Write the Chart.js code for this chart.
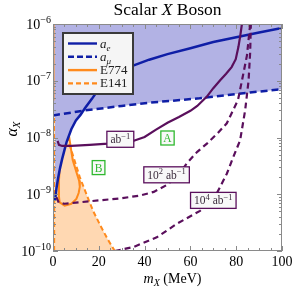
<!DOCTYPE html>
<html>
<head>
<meta charset="utf-8">
<script src="https://cdn.jsdelivr.net/npm/chart.js@4.4.0/dist/chart.umd.min.js"></script>
<style>
  html, body { margin: 0; padding: 0; background: #fff; }
  #wrap { width: 292px; height: 290px; }
</style>
</head>
<body>
<div id="wrap"><canvas id="bosonChart" width="292" height="290"></canvas></div>
<script>
// limits: mass in MeV, coupling alpha_X
const aeMass  = [0.9, 1.5, 2.2, 3, 4, 5, 6, 8, 10, 12, 14, 17, 20, 25, 30, 35, 42, 50, 60, 70, 80, 90, 100];
const aeAlpha = [7.8e-10, 1.26e-9, 1.9e-9, 2.8e-9, 4.2e-9, 6.0e-9, 8.5e-9, 1.4e-8, 2.0e-8, 2.5e-8, 3.3e-8, 4.8e-8, 7.2e-8, 1.08e-7, 1.45e-7, 1.85e-7, 2.35e-7, 2.95e-7, 3.75e-7, 4.8e-7, 5.85e-7, 7.1e-7, 8.5e-7];

const amuMass  = [0, 14, 30, 42, 64, 86, 100];
const amuAlpha = [2.45e-8, 3.0e-8, 3.6e-8, 4.1e-8, 4.9e-8, 6.2e-8, 7.1e-8];

const e141EdgeMass  = [0.5, 0.5];
const e141EdgeAlpha = [1e-10, 1e-6];
const e141Mass  = [5.2, 6.6, 9.2, 11.7, 14.6, 17.5, 20.8, 24, 27];
const e141Alpha = [2.0e-8, 8.9e-9, 4.2e-9, 2.0e-9, 1.0e-9, 5.1e-10, 2.75e-10, 1.58e-10, 1.0e-10];

const e774EdgeMass  = [0.4, 0.4];
const e774EdgeAlpha = [1e-6, 4.5e-8];
const e774Mass  = [6.5, 6.9, 8.6, 10.3, 11.4, 11.7, 11.2, 10.2, 8.0, 5.1, 2.9, 2.5, 2.6, 3.0, 3.6];
const e774Alpha = [2.0e-8, 1.12e-8, 4.0e-9, 2.4e-9, 1.74e-9, 1.35e-9, 1.05e-9, 8.3e-10, 6.8e-10, 6.3e-10, 7.2e-10, 1.0e-9, 1.74e-9, 3.2e-9, 6.3e-9];

// projected reach for 1, 10^2, 10^4 ab^-1
const reach1Mass  = [2.0, 2.6, 4, 8, 16, 24, 35, 40, 45, 50, 55, 60, 63, 67.2, 70, 73, 75.5, 78, 79.8, 81, 81.8, 82.5];
const reach1Alpha = [8.7e-9, 7.4e-9, 7.1e-9, 7.1e-9, 7.4e-9, 7.8e-9, 8.7e-9, 1.02e-8, 1.38e-8, 1.82e-8, 2.3e-8, 2.95e-8, 3.6e-8, 5.25e-8, 7.4e-8, 1.02e-7, 1.32e-7, 1.74e-7, 2.4e-7, 4.0e-7, 6.3e-7, 1.0e-6];

const reach2Mass  = [1.5, 2.5, 5, 10, 20, 30, 38, 44, 50, 55, 58.4, 63, 67.2, 72, 75.9, 78.6, 80.8, 83, 84.7, 86.1];
const reach2Alpha = [8.9e-10, 7.1e-10, 6.8e-10, 7.1e-10, 7.8e-10, 8.5e-10, 9.5e-10, 1.1e-9, 1.48e-9, 2.24e-9, 3.5e-9, 5.6e-9, 7.8e-9, 1.2e-8, 1.78e-8, 3.0e-8, 4.6e-8, 1.26e-7, 2.8e-7, 1.0e-6];

const reach4Mass  = [27, 35, 45.3, 54, 64.2, 70, 73, 75.9, 78.8, 81.7, 83.9, 85.4, 86.1, 86.4];
const reach4Alpha = [1.0e-10, 1.17e-10, 1.74e-10, 3.0e-10, 5.1e-10, 7.9e-10, 1.35e-9, 2.3e-9, 4.6e-9, 8.9e-9, 3.0e-8, 1.0e-7, 3.2e-7, 1.0e-6];

const xTicks = [0, 20, 40, 60, 80, 100];
const yTickExp = [-10, -9, -8, -7, -6];

const SERIF = '"Liberation Serif", "Times New Roman", serif';
const BLUE = '#0f1ea6';
const LAVENDER = '#b2b2e4';
const ORANGE = '#ff8a1c';
const PEACH = '#ffd8b2';
const PURPLE = '#5a0f5c';
const GREEN = '#2fb82f';

const pts = (xs, ys) => xs.map((x, i) => ({ x: x, y: ys[i] }));

// text annotations, placed in data coordinates
const boxLabels = [
  { m: 29.4, alpha: 9.3e-9, color: PURPLE, text: [['ab', 0], ['\u22121', 1]] },
  { m: 49.6, alpha: 2.2e-9, color: PURPLE, text: [['10', 0], ['2', 1], [' ab', 0], ['\u22121', 1]] },
  { m: 70, alpha: 7.8e-10, color: PURPLE, text: [['10', 0], ['4', 1], [' ab', 0], ['\u22121', 1]] },
  { m: 50, alpha: 9.8e-9, color: GREEN, text: [['A', 0]] },
  { m: 19.9, alpha: 2.95e-9, color: GREEN, text: [['B', 0]] }
];

function richWidth(ctx, parts) {
  let w = 0;
  parts.forEach(p => { ctx.font = p.font; w += ctx.measureText(p.text).width; });
  return w;
}
function drawRich(ctx, parts, x, y) {
  parts.forEach(p => {
    ctx.font = p.font;
    ctx.fillText(p.text, x, y + (p.dy || 0));
    x += ctx.measureText(p.text).width;
  });
}

const decor = {
  id: 'decor',
  afterDatasetsDraw(chart) {
    const ctx = chart.ctx;
    const xs = chart.scales.x, ys = chart.scales.y;
    ctx.save();
    ctx.textBaseline = 'alphabetic';
    boxLabels.forEach(b => {
      const parts = b.text.map(t => t[1]
        ? { text: t[0], font: '8.5px ' + SERIF, dy: -4.5 }
        : { text: t[0], font: '11.5px ' + SERIF });
      const cx = xs.getPixelForValue(b.m), cy = ys.getPixelForValue(b.alpha);
      const tw = richWidth(ctx, parts);
      const green = b.color === GREEN;
      const w = tw + (green ? 5 : 7), h = green ? 14 : 16;
      ctx.fillStyle = '#f8f8f8';
      ctx.fillRect(cx - w / 2, cy - h / 2, w, h);
      ctx.strokeStyle = b.color;
      ctx.lineWidth = 1.3;
      ctx.strokeRect(cx - w / 2, cy - h / 2, w, h);
      ctx.fillStyle = green ? GREEN : '#3b2b3c';
      drawRich(ctx, parts, cx - tw / 2, cy + 4);
    });
    ctx.restore();
  },
  afterDraw(chart) {
    const ctx = chart.ctx, a = chart.chartArea;
    const xs = chart.scales.x, ys = chart.scales.y;
    ctx.save();
    // frame with inward ticks
    ctx.strokeStyle = '#8a8a8a';
    ctx.lineWidth = 1;
    ctx.strokeRect(a.left + 0.5, a.top + 0.5, a.right - a.left - 1, a.bottom - a.top - 1);
    ctx.beginPath();
    for (let v = 0; v <= 100; v += 5) {
      const px = Math.round(xs.getPixelForValue(v)) + 0.5;
      const len = v % 20 === 0 ? 5 : 3;
      ctx.moveTo(px, a.bottom); ctx.lineTo(px, a.bottom - len);
      ctx.moveTo(px, a.top); ctx.lineTo(px, a.top + len);
    }
    yTickExp.forEach(e => {
      for (let k = 1; k <= 9; k++) {
        if (e === -6 && k > 1) break;
        const py = Math.round(ys.getPixelForValue(k * Math.pow(10, e))) + 0.5;
        const len = k === 1 ? 5 : 3;
        ctx.moveTo(a.left, py); ctx.lineTo(a.left + len, py);
        ctx.moveTo(a.right, py); ctx.lineTo(a.right - len, py);
      }
    });
    ctx.stroke();

    // y tick labels 10^n
    ctx.fillStyle = '#000';
    ctx.textBaseline = 'alphabetic';
    yTickExp.forEach(e => {
      const py = ys.getPixelForValue(Math.pow(10, e));
      const parts = [
        { text: '10', font: '14px ' + SERIF },
        { text: '\u2212' + Math.abs(e), font: '10px ' + SERIF, dy: -6 }
      ];
      const w = richWidth(ctx, parts);
      drawRich(ctx, parts, a.left - 2 - w, py + 4.5);
    });

    // title
    const title = [
      { text: 'Scalar ', font: '17.5px ' + SERIF },
      { text: 'X', font: 'italic 17.5px ' + SERIF },
      { text: ' Boson', font: '17.5px ' + SERIF }
    ];
    const cxArea = (a.left + a.right) / 2;
    drawRich(ctx, title, cxArea - richWidth(ctx, title) / 2, 15);

    // x axis title
    const xTitle = [
      { text: 'm', font: 'italic 14px ' + SERIF },
      { text: 'X', font: 'italic 10px ' + SERIF, dy: 3 },
      { text: ' (MeV)', font: '14px ' + SERIF }
    ];
    drawRich(ctx, xTitle, cxArea - richWidth(ctx, xTitle) / 2 + 5, 283);

    // y axis title
    const yTitle = [
      { text: '\u03b1', font: 'italic 16px ' + SERIF },
      { text: 'X', font: 'italic 11px ' + SERIF, dy: 3 }
    ];
    ctx.save();
    ctx.translate(17, 129);
    ctx.rotate(-Math.PI / 2);
    drawRich(ctx, yTitle, -richWidth(ctx, yTitle) / 2, 0);
    ctx.restore();

    // legend
    const lx = 63, ly = 33, lw = 70, lh = 61;
    ctx.fillStyle = '#f5f5f5';
    ctx.fillRect(lx, ly, lw, lh);
    ctx.strokeStyle = '#3a3a3a';
    ctx.lineWidth = 2;
    ctx.strokeRect(lx, ly, lw, lh);
    const rows = [
      { color: BLUE, dash: [], parts: [{ text: 'a', font: 'italic 13px ' + SERIF }, { text: 'e', font: 'italic 9px ' + SERIF, dy: 3 }] },
      { color: BLUE, dash: [6, 3], parts: [{ text: 'a', font: 'italic 13px ' + SERIF }, { text: '\u03bc', font: 'italic 9px ' + SERIF, dy: 3 }] },
      { color: ORANGE, dash: [], parts: [{ text: 'E774', font: '13px ' + SERIF }] },
      { color: ORANGE, dash: [5, 3], parts: [{ text: 'E141', font: '13px ' + SERIF }] }
    ];
    rows.forEach((r, i) => {
      const yy = 43.5 + i * 13.3;
      ctx.strokeStyle = r.color;
      ctx.lineWidth = 2.4;
      ctx.setLineDash(r.dash);
      ctx.beginPath();
      ctx.moveTo(68, yy); ctx.lineTo(97, yy);
      ctx.stroke();
      ctx.setLineDash([]);
      ctx.fillStyle = '#222';
      drawRich(ctx, r.parts, 100, yy + 4);
    });
    ctx.restore();
  }
};

const lineSet = (data, color, width, dash, order) => ({
  data: data, borderColor: color, borderWidth: width, borderDash: dash,
  fill: false, pointRadius: 0, order: order
});

new Chart(document.getElementById('bosonChart'), {
  type: 'line',
  data: {
    datasets: [
      // filled regions (higher order is painted first)
      { data: pts(e141EdgeMass, e141EdgeAlpha).concat(pts(e141Mass, e141Alpha)),
        borderWidth: 0, borderColor: 'transparent', backgroundColor: PEACH, fill: 'shape', pointRadius: 0, order: 10 },
      lineSet(pts(e141EdgeMass, e141EdgeAlpha), ORANGE, 2, [5, 3], 9),
      lineSet(pts(e141Mass, e141Alpha), ORANGE, 2, [5, 3], 9),
      lineSet(pts(e774Mass, e774Alpha), ORANGE, 2, [], 9),
      { data: pts(amuMass, amuAlpha), borderWidth: 0, borderColor: 'transparent', backgroundColor: LAVENDER, fill: 'end', pointRadius: 0, order: 8 },
      { data: pts(aeMass, aeAlpha), borderWidth: 0, borderColor: 'transparent', backgroundColor: LAVENDER, fill: 'end', pointRadius: 0, order: 8 },
      lineSet(pts(e774EdgeMass, e774EdgeAlpha), '#f9a45a', 1.6, [], 7),
      lineSet(pts(aeMass, aeAlpha), BLUE, 2.5, [], 5),
      lineSet(pts(amuMass, amuAlpha), BLUE, 2.5, [7, 4], 5),
      lineSet(pts(reach1Mass, reach1Alpha), PURPLE, 2.2, [], 4),
      lineSet(pts(reach2Mass, reach2Alpha), PURPLE, 2.2, [6, 4], 4),
      lineSet(pts(reach4Mass, reach4Alpha), PURPLE, 2.2, [6, 4], 4)
    ]
  },
  options: {
    responsive: false,
    animation: false,
    events: [],
    layout: { padding: { top: 24, right: 10, left: 0, bottom: 0 } },
    plugins: { legend: { display: false }, tooltip: { enabled: false }, title: { display: false } },
    elements: { line: { tension: 0 }, point: { radius: 0 } },
    scales: {
      x: {
        type: 'linear', min: 0, max: 100,
        afterBuildTicks: s => { s.ticks = xTicks.map(v => ({ value: v })); },
        ticks: { color: '#000', font: { family: SERIF, size: 14 }, padding: 3, maxRotation: 0, autoSkip: false },
        grid: { display: false, drawTicks: false },
        border: { display: false },
        afterFit: s => { s.height = 39; s.paddingLeft = 0; s.paddingRight = 0; }
      },
      y: {
        type: 'logarithmic', min: 1e-10, max: 1e-6,
        ticks: { display: false },
        grid: { display: false, drawTicks: false },
        border: { display: false },
        afterFit: s => { s.width = 53; s.paddingTop = 0; s.paddingBottom = 0; }
      }
    }
  },
  plugins: [decor]
});
</script>
</body>
</html>
